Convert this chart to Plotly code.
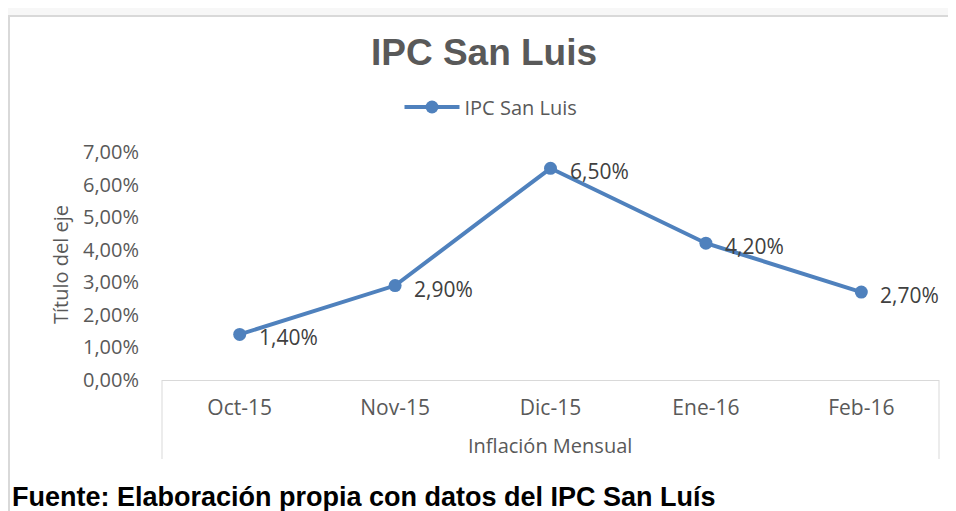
import plotly.graph_objects as go

# data
meses = ["Oct-15", "Nov-15", "Dic-15", "Ene-16", "Feb-16"]
ipc = [1.40, 2.90, 6.50, 4.20, 2.70]
y_ticks = [0, 1, 2, 3, 4, 5, 6, 7]
y_text = [f"{v:.2f}%".replace(".", ",") for v in y_ticks]

azul = "#4f81bd"
gris_txt = "#595959"
gris_lin = "#d9d9d9"

# the page puts the figure 8px in from the top-left, so work in window px minus OFF
OFF = 8

fig = go.Figure()

fig.add_trace(go.Scatter(
     x=meses, y=ipc,
     name="IPC San Luis",
     mode="lines+markers",
     line=dict(width=4, color=azul),
     marker=dict(size=13, color=azul),
     ))

# data labels to the right of each point
for m, v in zip(meses, ipc):
     fig.add_annotation(
          x=m, y=v, xref="x", yref="y",
          text=f"{v:.2f}%".replace(".", ","),
          showarrow=False, xanchor="left", yanchor="middle",
          xshift=17, yshift=-3,
          font=dict(family="Open Sans", size=21, color="#404040"))

W, H = 956, 511
L, R, T, B = 162 - OFF, 939 - OFF, 152 - OFF, 380 - OFF
pw, ph = R - L, B - T

def px(x):
     return (x - OFF - L) / pw

def py(y):
     return (B - (y - OFF)) / ph

fig.update_layout(
     width=W, height=H,
     margin=dict(l=L, r=W - R, t=T, b=H - B),
     paper_bgcolor="white", plot_bgcolor="white",
     showlegend=True,
     title=dict(text="<b>IPC San Luis</b>", x=(484 - OFF) / W, y=1 - (52 - OFF) / H,
                xanchor="center", yanchor="middle",
                font=dict(family="Liberation Sans", size=37, color=gris_txt)),
     legend=dict(orientation="h", x=px(491), y=py(107),
                 xanchor="center", yanchor="middle", itemwidth=55,
                 font=dict(family="Open Sans", size=20, color=gris_txt)),
     )

fig.update_xaxes(
     range=[-0.5, 4.5],
     showgrid=False, showline=True, linecolor=gris_lin, linewidth=1,
     ticks="outside", ticklen=9, tickcolor="rgba(0,0,0,0)",
     tickfont=dict(family="Open Sans", size=21, color=gris_txt),
     zeroline=False)

fig.update_yaxes(
     range=[0, 7], tickvals=y_ticks, ticktext=y_text,
     showgrid=False, showline=False, zeroline=False,
     ticks="outside", ticklen=18, tickcolor="rgba(0,0,0,0)",
     tickfont=dict(family="Open Sans", size=20, color=gris_txt))

# axis titles and footer
fig.add_annotation(text="Título del eje", xref="paper", yref="paper",
     x=px(60), y=py(265), textangle=-90, showarrow=False,
     xanchor="center", yanchor="middle",
     font=dict(family="Open Sans", size=20, color=gris_txt))
fig.add_annotation(text="Inflación Mensual", xref="paper", yref="paper",
     x=px(550), y=py(445), showarrow=False,
     xanchor="center", yanchor="middle",
     font=dict(family="Open Sans", size=20, color=gris_txt))
fig.add_annotation(text="<b>Fuente: Elaboración propia con datos del IPC San Luís</b>",
     xref="paper", yref="paper", x=px(10), y=py(497), showarrow=False,
     xanchor="left", yanchor="middle",
     font=dict(family="Liberation Sans", size=27, color="black"))

# frame: grey band on top, chart border, category box sides
fig.add_shape(type="rect", xref="paper", yref="paper",
     x0=px(OFF), x1=px(W + OFF), y0=py(OFF), y1=py(15),
     fillcolor="#f7f7f7", line=dict(width=0), layer="below")
fig.add_shape(type="line", xref="paper", yref="paper",
     x0=px(OFF), x1=px(W + OFF), y0=py(16), y1=py(16),
     line=dict(color=gris_lin, width=2))
fig.add_shape(type="line", xref="paper", yref="paper",
     x0=px(OFF + 1), x1=px(OFF + 1), y0=py(16), y1=py(H + OFF),
     line=dict(color=gris_lin, width=2))
for xv in [0, 1]:
     fig.add_shape(type="line", xref="paper", yref="paper",
          x0=xv, x1=xv, y0=0, y1=py(459),
          line=dict(color=gris_lin, width=1))

fig.write_html("out.html")
